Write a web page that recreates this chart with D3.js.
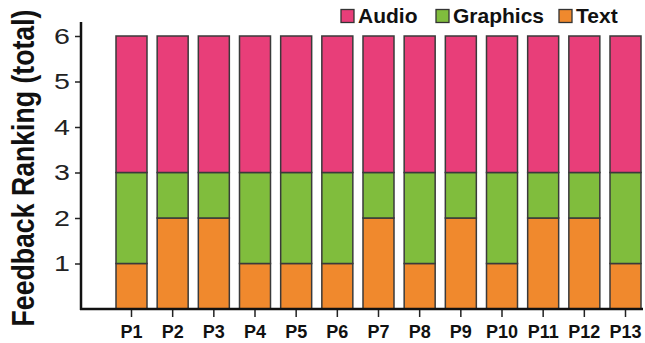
<!DOCTYPE html>
<html><head><meta charset="utf-8">
<script src="https://cdn.jsdelivr.net/npm/d3@7"></script>
<style>body{margin:0;background:#fff}svg{display:block;font-family:"Liberation Sans",Arial,sans-serif}</style>
</head><body><svg id="c" width="645" height="343"></svg>
<script>
const categories = ["P1","P2","P3","P4","P5","P6","P7","P8","P9","P10","P11","P12","P13"];
const textVals     = [1,2,2,1,1,1,2,1,2,1,2,2,1];
const graphicsVals = [2,1,1,2,2,2,1,2,1,2,1,1,2];
const audioVals    = [3,3,3,3,3,3,3,3,3,3,3,3,3];
const seriesNames = ["Text","Graphics","Audio"];
const colors = {Text:"#F0892D", Graphics:"#80BD3D", Audio:"#E83E79"};
const yTicks = [1,2,3,4,5,6];

const svg = d3.select("#c");
const x = d3.scaleBand().domain(categories).range([116,641]).paddingInner(0.247).paddingOuter(0);
const y = d3.scaleLinear().domain([0,6]).range([309,36]);

const rows = categories.map((c,i)=>({cat:c, Text:textVals[i], Graphics:graphicsVals[i], Audio:audioVals[i]}));
const stacked = d3.stack().keys(seriesNames)(rows);

svg.append("g").selectAll("g").data(stacked).join("g")
  .attr("fill", d=>colors[d.key])
  .selectAll("rect").data(d=>d).join("rect")
  .attr("x", d=>x(d.data.cat)).attr("width", x.bandwidth())
  .attr("y", d=>y(d[1])).attr("height", d=>y(d[0])-y(d[1]))
  .attr("stroke","#3a3a3a").attr("stroke-width",1.5);

// y axis
const ya = svg.append("g").attr("transform","translate(81,0)")
  .call(d3.axisLeft(y).tickValues(yTicks).tickFormat(d3.format("d")).tickSize(6).tickSizeOuter(0).tickPadding(6));
ya.select(".domain").remove();
ya.selectAll(".tick line").attr("stroke","#222").attr("stroke-width",1.5);
ya.selectAll(".tick text").attr("font-size",22).attr("fill","#222").attr("font-family","Liberation Sans, Arial, sans-serif")
  .attr("x",-11/1.3).attr("transform","scale(1.3,1)");
svg.append("line").attr("x1",81).attr("x2",81).attr("y1",22).attr("y2",y(0)+1).attr("stroke","#111").attr("stroke-width",2.5);

// x axis
const xa = svg.append("g").attr("transform",`translate(0,${y(0)})`)
  .call(d3.axisBottom(x).tickSize(8).tickSizeOuter(0).tickPadding(8));
xa.select(".domain").remove();
xa.selectAll(".tick line").attr("stroke","#222").attr("stroke-width",1.5);
xa.selectAll(".tick text").attr("font-size",18).attr("font-weight","bold").attr("fill","#111").attr("font-family","Liberation Sans, Arial, sans-serif");
svg.append("line").attr("x1",80).attr("x2",643).attr("y1",y(0)).attr("y2",y(0)).attr("stroke","#111").attr("stroke-width",2.5);

// y title
svg.append("text").attr("transform","translate(34,168) rotate(-90) scale(0.86,1)")
  .attr("text-anchor","middle").attr("font-size",31).attr("font-weight","bold").attr("fill","#111")
  .text("Feedback Ranking (total)");

// legend
const legendItems = ["Audio","Graphics","Text"];
const legendX = [341,436,559];
const lg = svg.append("g");
legendItems.forEach((k,i)=>{
  lg.append("rect").attr("x",legendX[i]).attr("y",9.5).attr("width",13).attr("height",13)
    .attr("fill",colors[k]).attr("stroke","#333").attr("stroke-width",1.3);
  lg.append("text").attr("x",legendX[i]+17).attr("y",23).attr("font-size",21).attr("font-weight","bold").attr("fill","#111").text(k);
});
</script></body></html>
